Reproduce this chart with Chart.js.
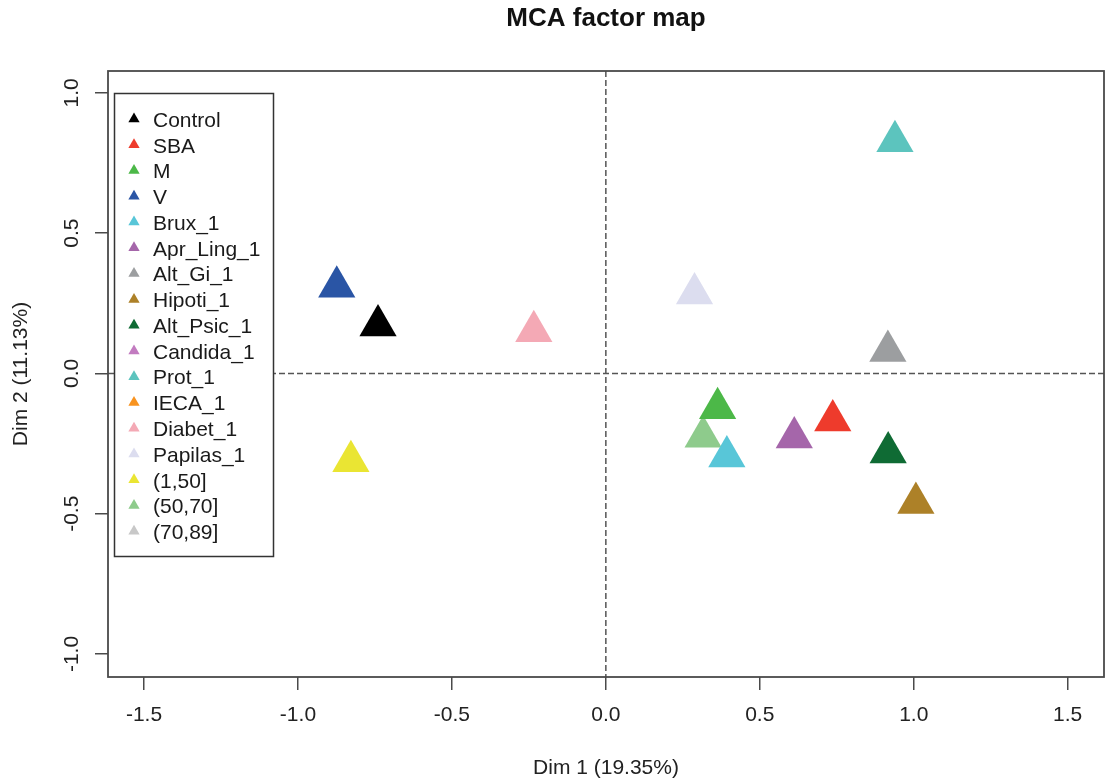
<!DOCTYPE html>
<html>
<head>
<meta charset="utf-8">
<title>MCA factor map</title>
<script src="https://cdn.jsdelivr.net/npm/chart.js@4.4.1/dist/chart.umd.min.js"></script>
<style>
  html, body { margin: 0; padding: 0; background: #ffffff; }
  #wrap { width: 1106px; height: 781px; }
</style>
</head>
<body>
<div id="wrap"><canvas id="mca" width="1106" height="781"></canvas></div>
<script>
// Category labels of the MCA (supplementary variables and modalities)
const categories = ['Control', 'SBA', 'M', 'V', 'Brux_1', 'Apr_Ling_1', 'Alt_Gi_1', 'Hipoti_1',
  'Alt_Psic_1', 'Candida_1', 'Prot_1', 'IECA_1', 'Diabet_1', 'Papilas_1', '(1,50]', '(50,70]', '(70,89]'];

// Coordinates on Dim 1 and Dim 2 (null = not plotted in this window)
const dim1 = [-0.740, 0.737, 0.363, -0.874, 0.393, 0.612, 0.916, 1.007,
  0.917, null, 0.939, null, -0.234, 0.288, -0.828, 0.316, null];
const dim2 = [0.171, -0.168, -0.124, 0.309, -0.296, -0.228, 0.080, -0.462,
  -0.282, null, 0.828, null, 0.150, 0.285, -0.313, -0.226, null];

const colors = ['#000000', '#EE3B2C', '#4CB848', '#2A55A5', '#58C6D8', '#A566AA', '#9C9EA0', '#AD8128',
  '#0F6B34', '#C27BC0', '#5CC4BE', '#F8931F', '#F4A9B5', '#DCDDEF', '#EAE533', '#8ECB8C', '#C8C8C8'];

const xTicks = [-1.5, -1.0, -0.5, 0.0, 0.5, 1.0, 1.5];
const yTicks = [-1.0, -0.5, 0.0, 0.5, 1.0];

const xLabel = 'Dim 1 (19.35%)';
const yLabel = 'Dim 2 (11.13%)';
const mainTitle = 'MCA factor map';

const FONT = "'Liberation Sans', Arial, Helvetica, sans-serif";
const AXIS_COLOR = '#4a4a4a';

const datasets = categories.map((name, i) => ({
  label: name,
  data: (dim1[i] === null) ? [] : [{ x: dim1[i], y: dim2[i] }],
  backgroundColor: colors[i],
  borderColor: colors[i],
  pointStyle: 'triangle',
  pointRadius: 21.5,
  pointHoverRadius: 21.5,
  borderWidth: 0
}));

function triangle(ctx, x, y, r) {
  ctx.beginPath();
  for (let k = 0; k < 3; k++) {
    const a = k * 2 * Math.PI / 3;
    const px = x + Math.sin(a) * r;
    const py = y - Math.cos(a) * r;
    if (k === 0) ctx.moveTo(px, py); else ctx.lineTo(px, py);
  }
  ctx.closePath();
  ctx.fill();
}

// Title, frame, zero reference lines, rotated y tick labels and the legend box
const mcaDecor = {
  id: 'mcaDecor',
  beforeDatasetsDraw(chart) {
    const { ctx, chartArea: a, scales: { x, y } } = chart;
    ctx.save();
    ctx.strokeStyle = '#555555';
    ctx.lineWidth = 1.5;
    ctx.setLineDash([6, 3]);
    const x0 = x.getPixelForValue(0);
    const y0 = y.getPixelForValue(0);
    ctx.beginPath();
    ctx.moveTo(x0, a.top); ctx.lineTo(x0, a.bottom);
    ctx.moveTo(a.left, y0); ctx.lineTo(a.right, y0);
    ctx.stroke();
    ctx.restore();
  },
  afterDatasetsDraw(chart) {
    const { ctx, chartArea: a, scales: { y } } = chart;
    ctx.save();
    // main title, centred over the plot region
    ctx.fillStyle = '#111111';
    ctx.font = 'bold 26px ' + FONT;
    ctx.textAlign = 'center';
    ctx.textBaseline = 'middle';
    ctx.fillText(mainTitle, (a.left + a.right) / 2, 19);
    // legend
    const lx = 114.5, ly = 93.5, lw = 159, lh = 463;
    ctx.fillStyle = '#ffffff';
    ctx.fillRect(lx, ly, lw, lh);
    ctx.strokeStyle = '#333333';
    ctx.lineWidth = 1.5;
    ctx.strokeRect(lx, ly, lw, lh);
    ctx.font = '21px ' + FONT;
    ctx.textAlign = 'left';
    ctx.textBaseline = 'middle';
    categories.forEach((name, i) => {
      const cy = 121 + i * 25.77;
      ctx.fillStyle = colors[i];
      triangle(ctx, 134, cy - 2, 6.5);
      ctx.fillStyle = '#1a1a1a';
      ctx.fillText(name, 153, cy);
    });
    // plot frame
    ctx.strokeStyle = AXIS_COLOR;
    ctx.lineWidth = 1.8;
    ctx.strokeRect(a.left, a.top, a.right - a.left, a.bottom - a.top);
    // y tick labels, parallel to the axis
    ctx.fillStyle = '#222222';
    ctx.font = '21px ' + FONT;
    ctx.textAlign = 'center';
    ctx.textBaseline = 'middle';
    yTicks.forEach(v => {
      const py = y.getPixelForValue(v);
      ctx.save();
      ctx.translate(72, py);
      ctx.rotate(-Math.PI / 2);
      ctx.fillText(v.toFixed(1), 0, 0);
      ctx.restore();
    });
    ctx.restore();
  }
};

new Chart(document.getElementById('mca'), {
  type: 'scatter',
  data: { datasets },
  plugins: [mcaDecor],
  options: {
    responsive: false,
    animation: false,
    devicePixelRatio: 1,
    layout: { autoPadding: false, padding: { left: 0, right: 2, top: 71, bottom: 0 } },
    plugins: {
      legend: { display: false },
      tooltip: { enabled: false },
      title: { display: false }
    },
    scales: {
      x: {
        type: 'linear',
        min: -1.617,
        max: 1.618,
        afterBuildTicks: s => { s.ticks = xTicks.map(v => ({ value: v })); },
        afterFit: s => { s.height = 104; s.paddingLeft = 0; s.paddingRight = 0; },
        border: { display: false },
        grid: { drawOnChartArea: false, drawTicks: true, tickLength: 13, color: AXIS_COLOR, lineWidth: 1.5 },
        ticks: {
          color: '#222222',
          font: { family: FONT, size: 21 },
          padding: 13,
          maxRotation: 0,
          callback: v => Number(v).toFixed(1)
        },
        title: {
          display: true,
          text: xLabel,
          color: '#222222',
          font: { family: FONT, size: 21, lineHeight: 1.2 },
          padding: { top: 0, bottom: 0 }
        }
      },
      y: {
        type: 'linear',
        min: -1.082,
        max: 1.078,
        afterBuildTicks: s => { s.ticks = yTicks.map(v => ({ value: v })); },
        afterFit: s => { s.width = 108; s.paddingTop = 0; s.paddingBottom = 0; },
        border: { display: false },
        grid: { drawOnChartArea: false, drawTicks: true, tickLength: 13, color: AXIS_COLOR, lineWidth: 1.5 },
        ticks: { display: false },
        title: {
          display: true,
          text: yLabel,
          color: '#222222',
          font: { family: FONT, size: 21, lineHeight: 1.2 },
          padding: { top: 9, bottom: 0 }
        }
      }
    }
  }
});
</script>
</body>
</html>
